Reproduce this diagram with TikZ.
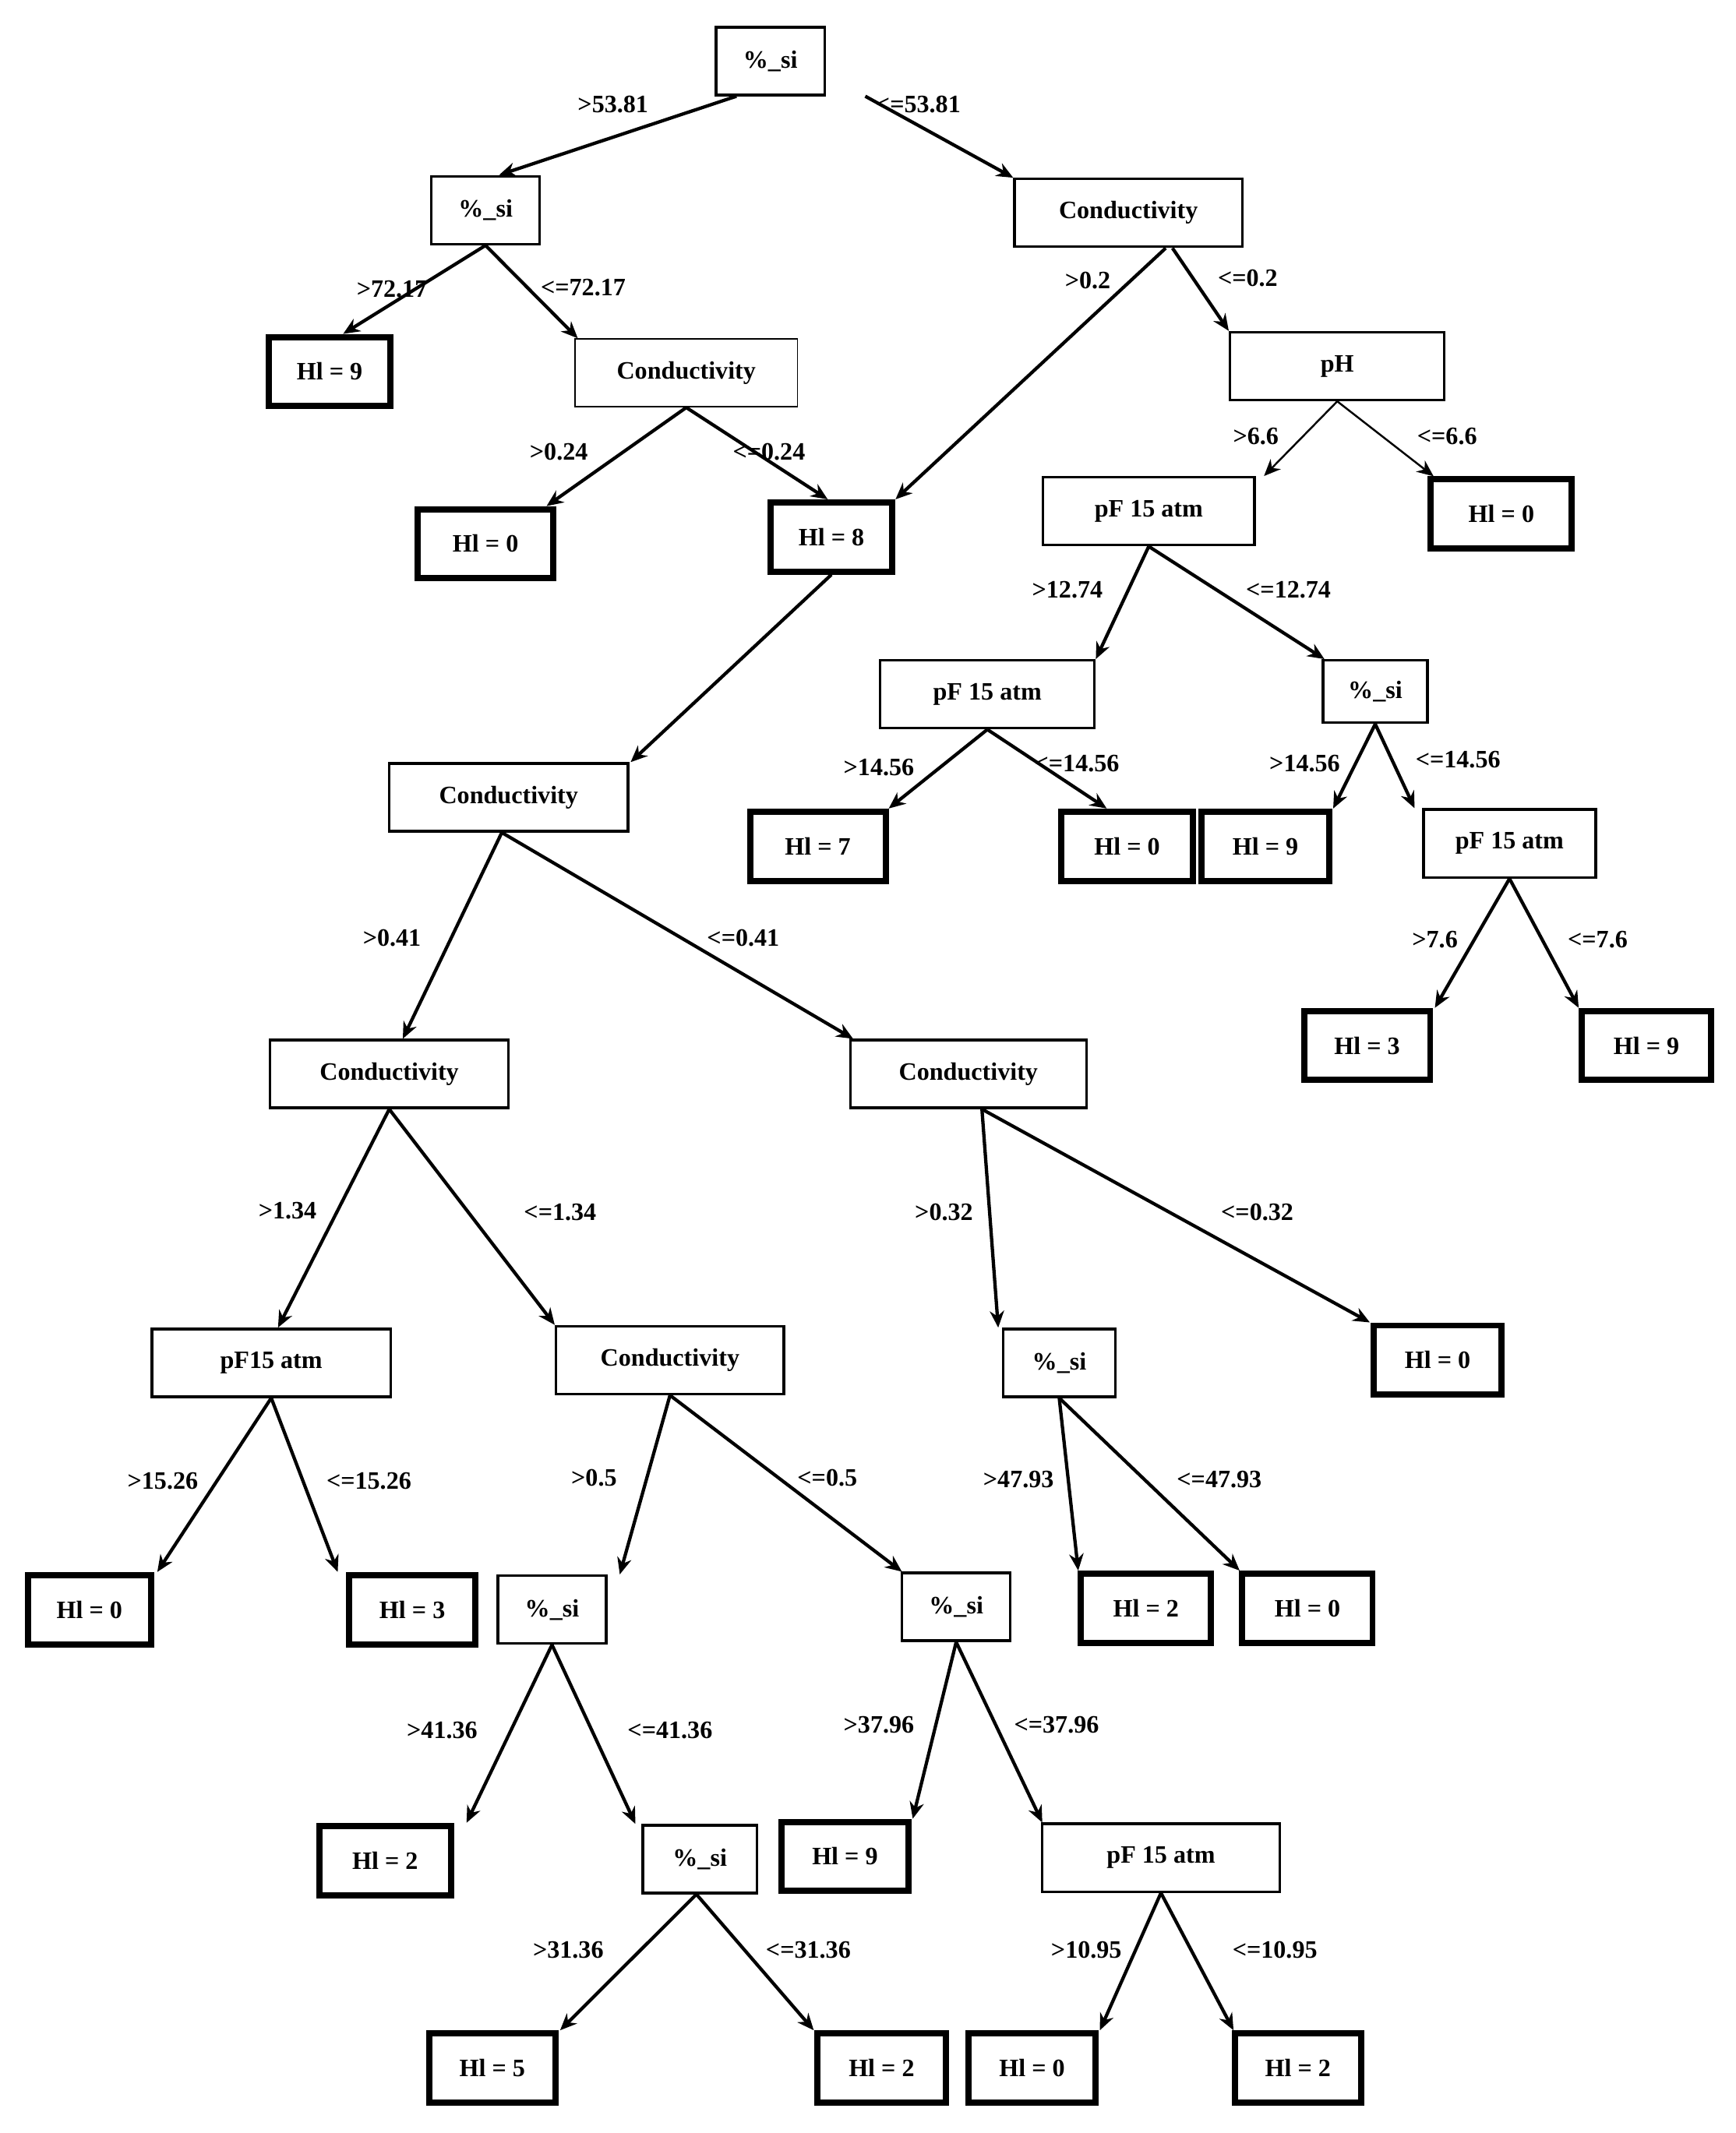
\documentclass[tikz,border=0pt]{standalone}
\usepackage{fontspec}
\setmainfont{Liberation Serif}
\usetikzlibrary{arrows.meta}
\begin{document}
\begin{tikzpicture}[x=0.02cm,y=-0.02cm,
 box/.style={draw,line width=1.1pt,minimum height=1cm,inner sep=0pt,font=\bfseries\fontsize{10.5}{12}\selectfont},
 leaf/.style={box,line width=2.6pt,minimum width=1.8cm,minimum height=1.02cm},
 lab/.style={font=\bfseries\fontsize{10.5}{12}\selectfont,inner sep=0pt},
 e/.style={-{Stealth[length=7pt,width=6pt]},line width=1.4pt}]
\useasboundingbox (0,0) rectangle (1280,1573);
% nodes
\node[box,minimum width=1.6cm] (r) at (568,45) {\%\_si};
\node[box,minimum width=1.6cm] (a) at (358,155) {\%\_si};
\node[box,minimum width=3.36cm] (b) at (832,157) {Conductivity};
\node[leaf] (a1) at (243,274) {Hl = 9};
\node[box,line width=0.6pt,minimum width=3.28cm] (a2) at (506,275) {Conductivity};
\node[box,minimum width=3.16cm] (b2) at (986,270) {pH};
\node[leaf,minimum width=2cm] (a21) at (358,401) {Hl = 0};
\node[leaf] (h8) at (613,396) {Hl = 8};
\node[box,minimum width=3.12cm] (p1) at (847,377) {pF 15 atm};
\node[leaf,minimum width=2.08cm] (b22) at (1107,379) {Hl = 0};
\node[box,minimum width=3.16cm] (p2) at (728,512) {pF 15 atm};
\node[box,minimum width=1.54cm,minimum height=0.92cm] (s1) at (1014,510) {\%\_si};
\node[box,minimum width=3.52cm] (c1) at (375,588) {Conductivity};
\node[leaf,minimum width=2cm] (l7) at (603,624) {Hl = 7};
\node[leaf,minimum width=1.94cm] (l0a) at (831,624) {Hl = 0};
\node[leaf,minimum width=1.88cm] (l9a) at (933,624) {Hl = 9};
\node[box,minimum width=2.54cm] (p3) at (1113,622) {pF 15 atm};
\node[leaf,minimum width=1.86cm] (l3a) at (1008,771) {Hl = 3};
\node[leaf,minimum width=1.9cm] (l9b) at (1214,771) {Hl = 9};
\node[box,minimum width=3.52cm] (c2) at (287,792) {Conductivity};
\node[box,minimum width=3.48cm] (c3) at (714,792) {Conductivity};
\node[box,minimum width=3.52cm] (p4) at (200,1005) {pF15 atm};
\node[box,minimum width=3.36cm] (c4) at (494,1003) {Conductivity};
\node[box,minimum width=1.66cm] (s2) at (781,1005) {\%\_si};
\node[leaf,minimum width=1.88cm] (l0b) at (1060,1003) {Hl = 0};
\node[leaf,minimum width=1.82cm] (l0c) at (66,1187) {Hl = 0};
\node[leaf,minimum width=1.86cm] (l3b) at (304,1187) {Hl = 3};
\node[box,minimum width=1.6cm] (s3) at (407,1187) {\%\_si};
\node[box,minimum width=1.6cm] (s4) at (705,1185) {\%\_si};
\node[leaf,minimum width=1.92cm] (l2a) at (845,1186) {Hl = 2};
\node[leaf,minimum width=1.92cm] (l0d) at (964,1186) {Hl = 0};
\node[leaf,minimum width=1.94cm] (l2b) at (284,1372) {Hl = 2};
\node[box,minimum width=1.68cm] (s5) at (516,1371) {\%\_si};
\node[leaf,minimum width=1.88cm] (l9c) at (623,1369) {Hl = 9};
\node[box,minimum width=3.5cm] (p5) at (856,1370) {pF 15 atm};
\node[leaf,minimum width=1.86cm] (l5) at (363,1525) {Hl = 5};
\node[leaf,minimum width=1.9cm] (l2c) at (650,1525) {Hl = 2};
\node[leaf,minimum width=1.88cm] (l0e) at (761,1525) {Hl = 0};
\node[leaf,minimum width=1.86cm] (l2d) at (957,1525) {Hl = 2};
% edges
\draw[e] ([xshift=-0.5cm]r.south) -- ([xshift=0.2cm]a.north);
\draw[e] ([xshift=1.4cm]r.south) -- (b.north west);
\draw[e] (a.south) -- ([xshift=0.2cm]a1.north);
\draw[e] (a.south) -- ([xshift=-1.6cm]a2.north);
\draw[e] (a2.south) -- ([xshift=0.9cm]a21.north);
\draw[e] (a2.south) -- ([xshift=-1.0cm]h8.north east);
\draw[e] ([xshift=0.55cm]b.south) -- (h8.north east);
\draw[e] ([xshift=0.65cm]b.south) -- ([xshift=-1.6cm]b2.north);
\draw[e,line width=0.8pt] (b2.south) -- ([xshift=1.7cm]p1.north);
\draw[e,line width=0.8pt] (b2.south) -- ([xshift=-1.0cm]b22.north);
\draw[e] (p1.south) -- ([xshift=1.6cm]p2.north);
\draw[e] (p1.south) -- ([xshift=-0.75cm]s1.north);
\draw[e] (p2.south) -- (l7.north east);
\draw[e] (p2.south) -- ([xshift=-0.3cm]l0a.north);
\draw[e] (s1.south) -- ([xshift=1.0cm]l9a.north);
\draw[e] (s1.south) -- ([xshift=-1.4cm]p3.north);
\draw[e] (p3.south) -- ([xshift=1.0cm]l3a.north);
\draw[e] (p3.south) -- ([xshift=-1.0cm]l9b.north);
\draw[e] (h8.south) -- ([xshift=1.8cm]c1.north);
\draw[e] ([xshift=-0.1cm]c1.south) -- ([xshift=0.2cm]c2.north);
\draw[e] ([xshift=-0.1cm]c1.south) -- ([xshift=-1.7cm]c3.north);
\draw[e] (c2.south) -- ([xshift=0.1cm]p4.north);
\draw[e] (c2.south) -- ([xshift=-1.7cm]c4.north);
\draw[e] ([xshift=0.2cm]c3.south) -- ([xshift=-0.9cm]s2.north);
\draw[e] ([xshift=0.2cm]c3.south) -- ([xshift=-1.0cm]l0b.north);
\draw[e] (p4.south) -- ([xshift=1.0cm]l0c.north);
\draw[e] (p4.south) -- ([xshift=-1.1cm]l3b.north);
\draw[e] (c4.south) -- ([xshift=1.0cm]s3.north);
\draw[e] (c4.south) -- ([xshift=-0.8cm]s4.north);
\draw[e] (s2.south) -- ([xshift=-1.0cm]l2a.north);
\draw[e] (s2.south) -- ([xshift=-1.0cm]l0d.north);
\draw[e] (s3.south) -- ([xshift=1.2cm]l2b.north);
\draw[e] (s3.south) -- ([xshift=-0.95cm]s5.north);
\draw[e] (s4.south) -- ([xshift=1.0cm]l9c.north);
\draw[e] (s4.south) -- ([xshift=-1.75cm]p5.north);
\draw[e] ([xshift=-0.05cm]s5.south) -- ([xshift=1.0cm]l5.north);
\draw[e] ([xshift=-0.05cm]s5.south) -- ([xshift=-1.0cm]l2c.north);
\draw[e] (p5.south) -- ([xshift=1.0cm]l0e.north);
\draw[e] (p5.south) -- ([xshift=-0.95cm]l2d.north);
% labels
\node[lab] (t1) at (452,77) {>53.81};
\node[lab] (t2) at (677,77) {<=53.81};
\node[lab] (t3) at (289,213) {>72.17};
\node[lab] (t4) at (430,212) {<=72.17};
\node[lab] (t5) at (802,207) {>0.2};
\node[lab] (t6) at (920,205) {<=0.2};
\node[lab] (t7) at (412,333) {>0.24};
\node[lab] (t8) at (567,333) {<=0.24};
\node[lab] (t9) at (926,322) {>6.6};
\node[lab] (t10) at (1067,322) {<=6.6};
\node[lab] (t11) at (787,435) {>12.74};
\node[lab] (t12) at (950,435) {<=12.74};
\node[lab] (t13) at (648,566) {>14.56};
\node[lab] (t14) at (794,563) {<=14.56};
\node[lab] (t15) at (962,563) {>14.56};
\node[lab] (t16) at (1075,560) {<=14.56};
\node[lab] (t17) at (289,692) {>0.41};
\node[lab] (t18) at (548,692) {<=0.41};
\node[lab] (t19) at (1058,693) {>7.6};
\node[lab] (t20) at (1178,693) {<=7.6};
\node[lab] (t21) at (212,893) {>1.34};
\node[lab] (t22) at (413,894) {<=1.34};
\node[lab] (t23) at (696,894) {>0.32};
\node[lab] (t24) at (927,894) {<=0.32};
\node[lab] (t25) at (120,1092) {>15.26};
\node[lab] (t26) at (272,1092) {<=15.26};
\node[lab] (t27) at (438,1090) {>0.5};
\node[lab] (t28) at (610,1090) {<=0.5};
\node[lab] (t29) at (751,1091) {>47.93};
\node[lab] (t30) at (899,1091) {<=47.93};
\node[lab] (t31) at (326,1276) {>41.36};
\node[lab] (t32) at (494,1276) {<=41.36};
\node[lab] (t33) at (648,1272) {>37.96};
\node[lab] (t34) at (779,1272) {<=37.96};
\node[lab] (t35) at (419,1438) {>31.36};
\node[lab] (t36) at (596,1438) {<=31.36};
\node[lab] (t37) at (801,1438) {>10.95};
\node[lab] (t38) at (940,1438) {<=10.95};
\end{tikzpicture}
\end{document}
